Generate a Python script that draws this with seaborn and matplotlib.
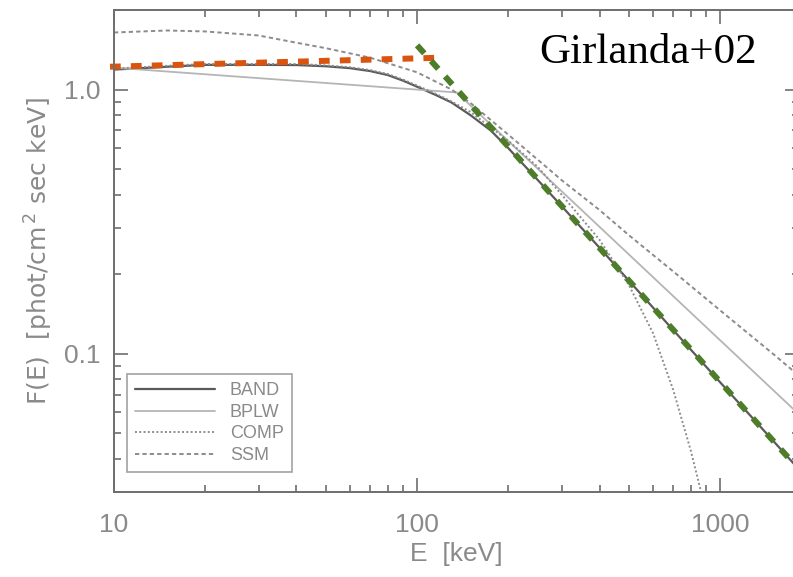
import matplotlib
matplotlib.use("Agg")
import matplotlib.pyplot as plt
import matplotlib.ticker as mticker
import seaborn as sns
import pandas as pd

# ---- data ----
E_band = [10, 15, 20, 30, 40, 50, 60, 70, 80, 90, 100, 115, 130, 150, 175, 200, 250, 300, 400, 500, 700, 1000, 1500, 1820]
F_band = [1.19, 1.22, 1.24, 1.24, 1.238, 1.225, 1.205, 1.175, 1.135, 1.08, 1.025, 0.955, 0.893, 0.80, 0.70, 0.60, 0.455, 0.362, 0.252, 0.189, 0.123, 0.078, 0.0467, 0.0365]

E_bplw = [10, 135, 1820]
F_bplw = [1.21, 0.975, 0.059]

E_comp = [10, 15, 20, 30, 40, 50, 60, 70, 80, 90, 100, 115, 130, 150, 200, 250, 300, 400, 500, 600, 700, 800, 900]
F_comp = [1.20, 1.23, 1.25, 1.25, 1.25, 1.235, 1.215, 1.185, 1.145, 1.09, 1.035, 0.965, 0.901, 0.823, 0.64, 0.51, 0.40, 0.27, 0.182, 0.120, 0.073, 0.043, 0.025]

E_ssm = [10, 15, 20, 30, 40, 50, 70, 100, 130, 150, 200, 250, 300, 400, 500, 700, 1000, 1500, 1820]
F_ssm = [1.644, 1.673, 1.659, 1.602, 1.504, 1.434, 1.320, 1.162, 1.00, 0.890, 0.675, 0.543, 0.454, 0.350, 0.281, 0.205, 0.146, 0.0996, 0.0826]

E_low_fit = [9.7, 120]
F_low_fit = [1.22, 1.32]

E_high_fit = [100, 1820]
F_high_fit = [1.47, 0.0365]

model_labels = ["BAND", "BPLW", "COMP", "SSM"]
x_tick_vals = [10, 100, 1000]
x_tick_labels = ["10", "100", "1000"]
y_tick_vals = [0.1, 1.0]
y_tick_labels = ["0.1", "1.0"]

# ---- figure ----
sns.set_style("ticks")
plt.rcParams["font.family"] = ["Liberation Sans", "DejaVu Sans"]

W, H = 793, 577
fig = plt.figure(figsize=(W / 100, H / 100), dpi=100)
ax = fig.add_axes([114 / W, 1 - 492 / H, 685 / W, 482 / H])

gray_txt = "#8a8a8a"
axis_col = "#6e6e6e"

def df(x, y):
    return pd.DataFrame({"E": x, "F": y})

sns.lineplot(data=df(E_band, F_band), x="E", y="F", ax=ax, color="#5a5a5a",
             lw=1.6, estimator=None, sort=False, label=model_labels[0])
sns.lineplot(data=df(E_bplw, F_bplw), x="E", y="F", ax=ax, color="#b5b5b5",
             lw=1.3, estimator=None, sort=False, label=model_labels[1])
sns.lineplot(data=df(E_comp, F_comp), x="E", y="F", ax=ax, color="#8c8c8c",
             lw=1.4, linestyle=(0, (1.0, 1.2)), estimator=None, sort=False,
             label=model_labels[2])
sns.lineplot(data=df(E_ssm, F_ssm), x="E", y="F", ax=ax, color="#8c8c8c",
             lw=1.4, linestyle=(0, (2.2, 1.6)), estimator=None, sort=False,
             label=model_labels[3])

sns.lineplot(data=df(E_low_fit, F_low_fit), x="E", y="F", ax=ax,
             color="#D9540F", lw=4.3, linestyle=(0, (1.8, 1.7)),
             estimator=None, sort=False)
sns.lineplot(data=df(E_high_fit, F_high_fit), x="E", y="F", ax=ax,
             color="#4E7D2A", lw=4.3, linestyle=(0, (1.8, 1.7)),
             estimator=None, sort=False)
for ln in ax.lines[4:]:
    ln.set_clip_on(False)
    ln.set_solid_capstyle("butt")
    ln.set_dash_capstyle("butt")

ax.set_xscale("log")
ax.set_yscale("log")
ax.set_xlim(10, 1820)
ax.set_ylim(0.03, 2.0)

ax.xaxis.set_major_locator(mticker.FixedLocator(x_tick_vals))
ax.xaxis.set_major_formatter(mticker.FixedFormatter(x_tick_labels))
ax.yaxis.set_major_locator(mticker.FixedLocator(y_tick_vals))
ax.yaxis.set_major_formatter(mticker.FixedFormatter(y_tick_labels))
ax.xaxis.set_minor_locator(mticker.LogLocator(base=10, subs=range(2, 10)))
ax.yaxis.set_minor_locator(mticker.LogLocator(base=10, subs=range(2, 10)))
ax.xaxis.set_minor_formatter(mticker.NullFormatter())
ax.yaxis.set_minor_formatter(mticker.NullFormatter())

ax.tick_params(which="both", direction="in", top=True, right=True,
               color=axis_col, width=1.2)
ax.tick_params(which="major", length=10)
ax.tick_params(which="minor", length=5)
ax.tick_params(axis="x", which="major", pad=15, labelsize=19, labelcolor=gray_txt)
ax.tick_params(axis="y", which="major", pad=10, labelsize=19, labelcolor=gray_txt)

for s in ax.spines.values():
    s.set_color(axis_col)
    s.set_linewidth(1.4)

ax.set_xlabel("E  [keV]", fontsize=19, color=gray_txt, labelpad=4)
ax.set_ylabel("F(E)  [phot/cm$^{\\,2}$ sec keV]", fontsize=18, color=gray_txt,
              labelpad=6, family=["DejaVu Sans"])

handles, labels = ax.get_legend_handles_labels()
leg = ax.legend(handles[:4], labels[:4], loc="lower left",
                bbox_to_anchor=(13 / 685, 20 / 482), fontsize=13,
                frameon=True, fancybox=False, edgecolor="#8a8a8a",
                handlelength=4.4, handletextpad=0.85, labelspacing=0.25,
                borderpad=0.45, borderaxespad=0.0)
leg.get_frame().set_linewidth(1.2)
for t in leg.get_texts():
    t.set_color(gray_txt)

fig.text(757 / W, 1 - 63 / H, "Girlanda+02", ha="right", va="baseline",
         fontsize=31, family="Liberation Serif", color="black")

fig.savefig("out.png", dpi=100)
